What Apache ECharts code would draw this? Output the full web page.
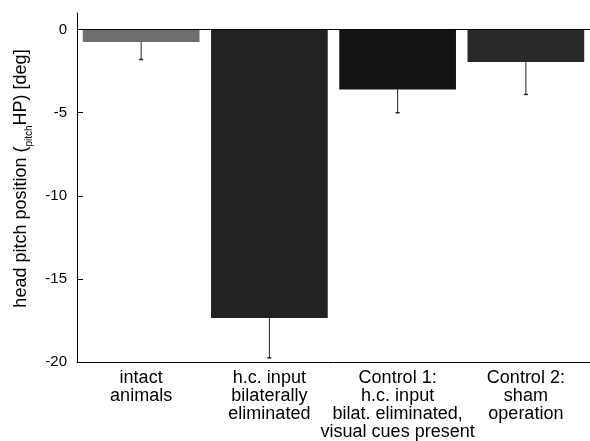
<!DOCTYPE html>
<html style="height: 100%; margin: 0;">
<head>
    <meta charset="utf-8" />
    <title></title>
    <script src="https://cdn.jsdelivr.net/npm/echarts@6/dist/echarts.min.js" type="text/javascript"></script>
</head>
<body style="height: 100%; margin: 0; background: #fff;">
<div id="main" style="width: 590px; height: 441px;"></div>
<script type="text/javascript">
    var categories = ['intact\nanimals', 'h.c. input\nbilaterally\neliminated', 'Control 1:\nh.c. input\nbilat. eliminated,\nvisual cues present', 'Control 2:\nsham\noperation'];
    var means = [-0.75, -17.35, -3.6, -1.95];
    var errEnds = [-1.8, -19.75, -5.0, -3.9];
    var barColors = ['#6e6e6e', '#222222', '#141414', '#292929'];
    var yTicks = [0, -5, -10, -15, -20];

    var myChart = echarts.init(document.getElementById('main'));

    var barData = [];
    var errData = [];
    for (var i = 0; i < means.length; i++) {
        barData.push({ value: means[i], itemStyle: { color: barColors[i] } });
        errData.push([i, means[i], errEnds[i]]);
    }

    var font = '"Liberation Sans", Arial, Helvetica, sans-serif';

    myChart.setOption({
        animation: false,
        grid: { left: 77, right: 0, top: 13, bottom: 76 },
        xAxis: {
            type: 'category',
            data: categories,
            axisLine: { onZero: false, lineStyle: { color: '#000', width: 1 } },
            axisTick: { inside: false, length: 6, lineStyle: { color: '#000' } },
            axisLabel: {
                interval: 0,
                margin: 7,
                color: '#000',
                fontFamily: font,
                fontSize: 18,
                lineHeight: 18
            }
        },
        yAxis: {
            type: 'value',
            min: -20,
            max: 1,
            interval: 5,
            name: 'head pitch position ({sub|pitch}HP) [deg]',
            nameLocation: 'middle',
            nameRotate: 90,
            nameGap: 40,
            nameTextStyle: {
                color: '#000',
                fontFamily: font,
                fontSize: 18,
                lineHeight: 26,
                padding: [0, 0, 0, 18],
                rich: {
                    sub: { fontFamily: font, fontSize: 10, lineHeight: 12, verticalAlign: 'bottom', color: '#000' }
                }
            },
            axisLine: { show: true, lineStyle: { color: '#000', width: 1 } },
            axisTick: { show: true, inside: true, length: 6, customValues: yTicks, lineStyle: { color: '#000' } },
            axisLabel: { customValues: yTicks, margin: 10, color: '#000', fontFamily: font, fontSize: 15 },
            splitLine: { show: false }
        },
        series: [{
            type: 'bar',
            data: barData,
            barCategoryGap: '9%',
            markLine: {
                silent: true,
                symbol: 'none',
                label: { show: false },
                lineStyle: { color: '#000', width: 1, type: 'solid' },
                data: [{ yAxis: 0 }]
            }
        }, {
            // error bars, one side only
            type: 'custom',
            data: errData,
            renderItem: function(params, api) {
                var top = api.coord([api.value(0), api.value(1)]);
                var bot = api.coord([api.value(0), api.value(2)]);
                return {
                    type: 'group',
                    children: [{
                        type: 'line',
                        shape: { x1: top[0], y1: top[1], x2: bot[0], y2: bot[1] },
                        style: { stroke: '#222', lineWidth: 1 }
                    }, {
                        type: 'line',
                        shape: { x1: bot[0] - 2, y1: bot[1], x2: bot[0] + 2, y2: bot[1] },
                        style: { stroke: '#222', lineWidth: 1.5 }
                    }]
                };
            }
        }]
    });
</script>
</body>
</html>
